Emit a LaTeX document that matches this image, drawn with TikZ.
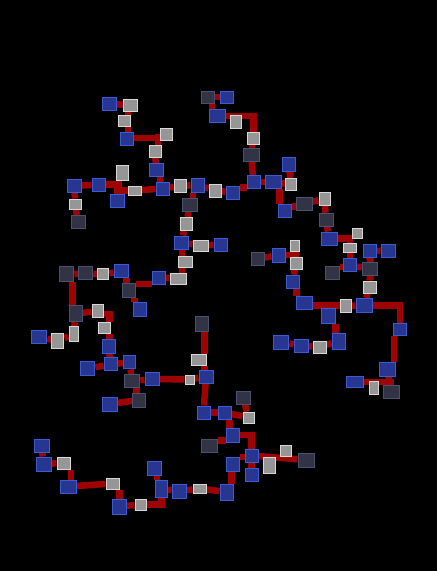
\documentclass[tikz,border=0pt]{standalone}
\usepackage{tikz}

\definecolor{blufill}{RGB}{38,54,145}
\definecolor{bluline}{RGB}{60,90,210}
\definecolor{whtfill}{RGB}{150,150,150}
\definecolor{whtline}{RGB}{215,215,215}
\definecolor{drkfill}{RGB}{50,52,70}
\definecolor{drkline}{RGB}{74,80,112}
\definecolor{wirered}{RGB}{158,4,4}

\pgfdeclarelayer{back}
\pgfdeclarelayer{wires}
\pgfsetlayers{back,wires,main}

\begin{document}
\begin{tikzpicture}[x=1pt, y=-1pt,
    box/.style={rectangle, inner sep=0pt, line width=1pt, minimum width=13pt, minimum height=13pt},
    blu/.style={box, draw=bluline, fill=blufill},
    drk/.style={box, draw=drkline, fill=drkfill},
    wht/.style={box, draw=whtline, fill=whtfill, minimum width=12pt, minimum height=12pt},
    sz/.style 2 args={minimum width=#1pt, minimum height=#2pt},
    wire/.style={draw=wirered, line width=6.5pt}]
    \useasboundingbox (0, 0) rectangle (437, 571);
    \begin{pgfonlayer}{back}
        \fill [black] (0, 0) rectangle (437, 571);
    \end{pgfonlayer}

    \node [blu, sz={14}{13}] (1) at (109.5, 104) {};
    \node [wht, sz={14}{12}] (2) at (130.5, 105) {};
    \node [wht, sz={12}{11}] (3) at (124, 121) {};
    \node [blu] (4) at (127, 139) {};
    \node [wht] (5) at (166, 134) {};
    \node [wht] (6) at (155, 151) {};
    \node [blu, sz={14}{13}] (7) at (156, 170) {};
    \node [blu] (8) at (162.5, 188.5) {};

    \node [blu, sz={14}{13}] (9) at (74.5, 186) {};
    \node [blu] (10) at (98.5, 184.5) {};
    \node [wht, sz={12}{15}] (11) at (122, 173) {};
    \node [wht, sz={13}{9}] (12) at (135, 190.5) {};
    \node [blu, sz={14}{13}] (13) at (117, 201) {};
    \node [wht, sz={12}{10}] (14) at (75, 204) {};
    \node [drk, sz={14}{13}] (15) at (78, 222) {};

    \node [drk, sz={13}{12}] (16) at (208, 97) {};
    \node [blu, sz={13}{12}] (17) at (226.5, 97) {};
    \node [blu, sz={16}{13}] (18) at (217, 116) {};
    \node [wht, sz={11}{13}] (19) at (236, 122) {};
    \node [wht] (20) at (253.5, 138) {};
    \node [drk, sz={16}{13}] (21) at (251, 155) {};
    \node [blu] (22) at (253.5, 182) {};
    \node [blu, sz={16}{13}] (23) at (273, 182) {};

    \node [wht, sz={12}{13}] (24) at (180, 186) {};
    \node [blu, sz={13}{14}] (25) at (197.5, 185) {};
    \node [wht, sz={12}{13}] (26) at (215, 190.5) {};
    \node [blu] (27) at (232.5, 192.5) {};
    \node [drk, sz={15}{13}] (28) at (190, 205) {};
    \node [wht, sz={12}{13}] (29) at (186, 224) {};

    \node [blu, sz={13}{14}] (30) at (288.5, 164) {};
    \node [wht, sz={11}{12}] (31) at (291, 184.5) {};
    \node [blu] (32) at (284.5, 211.3) {};
    \node [drk, sz={16}{13}] (33) at (304, 203.5) {};
    \node [wht, sz={11}{13}] (34) at (324.5, 199) {};
    \node [drk, sz={14}{13}] (35) at (326, 219.7) {};
    \node [blu, sz={16}{13}] (36) at (329, 238.5) {};
    \node [wht, sz={10}{10}] (37) at (357, 233) {};
    \node [wht, sz={13}{9}] (38) at (350, 248.3) {};
    \node [blu] (39) at (350, 265) {};
    \node [drk, sz={14}{13}] (40) at (332, 273) {};
    \node [blu] (41) at (369.5, 250.7) {};
    \node [blu, sz={14}{13}] (42) at (388, 251) {};
    \node [drk, sz={15}{13}] (43) at (370, 269) {};
    \node [wht, sz={13}{12}] (44) at (369.5, 287) {};
    \node [blu, sz={16}{14}] (45) at (364, 305.3) {};

    \node [wht, sz={9}{11}] (46) at (294.5, 245.5) {};
    \node [wht] (47) at (296, 263) {};
    \node [drk] (48) at (257.5, 259) {};
    \node [blu, sz={13}{14}] (49) at (278.5, 255) {};
    \node [blu] (50) at (292.5, 281.7) {};
    \node [blu, sz={16}{13}] (51) at (304, 302.5) {};
    \node [blu, sz={14}{15}] (52) at (328, 316) {};
    \node [wht, sz={11}{13}] (53) at (345.5, 306) {};
    \node [blu, sz={13}{16}] (54) at (338.5, 341) {};
    \node [blu, sz={13}{12}] (55) at (400, 329.5) {};
    \node [blu, sz={16}{14}] (56) at (387, 369) {};
    \node [blu, sz={17}{11}] (57) at (355, 382) {};
    \node [wht, sz={9}{13}] (58) at (373.5, 387.5) {};
    \node [drk, sz={16}{13}] (59) at (391, 391.5) {};
    \node [blu, sz={15}{14}] (60) at (281.3, 342) {};
    \node [blu, sz={14}{13}] (61) at (301, 345.7) {};
    \node [wht, sz={13}{12}] (62) at (319.5, 347) {};

    \node [drk, sz={14}{15}] (63) at (66.8, 274.3) {};
    \node [drk, sz={14}{13}] (64) at (85.8, 273.3) {};
    \node [wht, sz={11}{11}] (65) at (103.3, 274.3) {};
    \node [blu, sz={14}{13}] (66) at (121, 271.3) {};
    \node [drk, sz={13}{16}] (67) at (75.5, 313.8) {};
    \node [wht, sz={11}{13}] (68) at (97.5, 311) {};
    \node [wht, sz={12}{11}] (69) at (104.3, 328.3) {};
    \node [blu, sz={13}{14}] (70) at (108.5, 346) {};
    \node [blu] (71) at (110.5, 364.3) {};
    \node [blu, sz={12}{13}] (72) at (129.5, 362.3) {};
    \node [blu, sz={14}{14}] (73) at (87.8, 368.8) {};
    \node [drk, sz={15}{13}] (74) at (132.3, 381.2) {};
    \node [blu, sz={14}{13}] (75) at (152, 379) {};
    \node [drk, sz={13}{14}] (76) at (139.3, 400) {};
    \node [blu, sz={15}{14}] (77) at (109.5, 404) {};
    \node [drk, sz={13}{14}] (78) at (129.3, 290) {};
    \node [blu] (79) at (158.5, 277.5) {};
    \node [blu, sz={13}{14}] (80) at (139.5, 309) {};
    \node [blu, sz={15}{13}] (81) at (39.3, 337.3) {};
    \node [wht, sz={12}{15}] (82) at (57.8, 340.7) {};
    \node [wht, sz={9}{15}] (83) at (73.5, 334.3) {};

    \node [wht, sz={16}{11}] (84) at (178, 278.5) {};
    \node [wht, sz={14}{11}] (85) at (185, 262.3) {};
    \node [blu, sz={14}{13}] (86) at (181, 242.5) {};
    \node [wht, sz={15}{11}] (87) at (200.5, 245.5) {};
    \node [blu] (88) at (220.5, 244.5) {};

    \node [drk, sz={13}{15}] (89) at (201.5, 324.3) {};
    \node [wht, sz={15}{11}] (90) at (198.5, 359.5) {};
    \node [blu, sz={14}{13}] (91) at (206, 376.7) {};
    \node [wht, sz={9}{9}] (92) at (189.5, 379.5) {};
    \node [blu] (93) at (203.5, 412.5) {};
    \node [blu] (94) at (224.5, 412.5) {};
    \node [wht, sz={11}{11}] (95) at (248.5, 417.5) {};
    \node [drk, sz={14}{13}] (96) at (243, 397.5) {};
    \node [blu, sz={13}{14}] (97) at (232.5, 435) {};
    \node [drk, sz={16}{13}] (98) at (209, 445.5) {};
    \node [blu] (99) at (251.5, 455.5) {};
    \node [wht, sz={11}{11}] (100) at (285.5, 450.5) {};
    \node [drk, sz={16}{14}] (101) at (306, 460) {};
    \node [blu, sz={13}{14}] (102) at (232.5, 464) {};
    \node [blu] (103) at (251.5, 474.5) {};
    \node [wht, sz={12}{16}] (104) at (269, 465) {};
    \node [blu, sz={13}{16}] (105) at (226.5, 492) {};
    \node [wht, sz={13}{9}] (106) at (199.5, 488.5) {};
    \node [blu, sz={14}{14}] (107) at (179, 491) {};
    \node [blu, sz={12}{17}] (108) at (161.5, 489) {};
    \node [blu, sz={14}{14}] (109) at (154, 468) {};
    \node [wht, sz={11}{11}] (110) at (140.5, 504.5) {};
    \node [blu, sz={14}{15}] (111) at (119, 506.5) {};
    \node [wht, sz={13}{11}] (112) at (112.5, 483.5) {};
    \node [blu, sz={16}{13}] (113) at (68, 486.5) {};
    \node [wht, sz={13}{12}] (114) at (63.5, 463) {};
    \node [blu, sz={15}{14}] (115) at (43.5, 464) {};
    \node [blu, sz={15}{13}] (116) at (41.5, 445.5) {};

    \begin{pgfonlayer}{wires}
    \draw [wire] (1) to (2);
    \draw [wire] ([xshift=4pt]3.north) to ([xshift=4pt]3.north |- 2.south);
    \draw [wire] ([xshift=4pt]3.south) to ([xshift=4pt]3.south |- 4.north);
    \draw [wire] ([yshift=1pt]4.east) to ([yshift=1pt]4.east -| 5.west);
    \draw [wire] ([xshift=3pt]6.north) to ([xshift=3pt]6.north |- 5.west);
    \draw [wire] (6) to (7);
    \draw [wire] ([xshift=4pt]7.south) to ([xshift=4pt]7.south |- 8.north);

    \draw [wire] (9) to (10);
    \draw [wire] (10) -| (13);
    \draw [wire] ([xshift=-3pt]11.south) to ([xshift=-3pt]11.south |- 13.north);
    \draw [wire] (13) |- (12);
    \draw [wire] (12) to (8);
    \draw [wire] (9) to (14);
    \draw [wire] (14) to (15);

    \draw [wire] (16) to (17);
    \draw [wire] ([xshift=4pt]16.south) to ([xshift=4pt]16.south |- 18.north);
    \draw [wire] (18) -| (20);
    \draw [wire] (20) to (21);
    \draw [wire] (21) to (22);
    \draw [wire] (22) to (23);

    \draw [wire] (8) to (24);
    \draw [wire] (24) to (25);
    \draw [wire] (25) to (26);
    \draw [wire] (26) to (27);
    \draw [wire] ([yshift=5pt]27.east) to ([yshift=5pt]27.east -| 22.west);
    \draw [wire] ([xshift=3pt]28.north) to ([xshift=3pt]28.north |- 25.south);
    \draw [wire] (28) to (29);
    \draw [wire] (29) to (86);

    \draw [wire] (23) to (31);
    \draw [wire] (30) to (31);
    \draw [wire] ([xshift=-5pt]32.north) to ([xshift=-5pt]32.north |- 23.south);
    \draw [wire] ([yshift=5pt]32.east) to ([yshift=5pt]32.east -| 33.west);
    \draw [wire] (33) to (34);
    \draw [wire] (34) to (35);
    \draw [wire] (35) to (36);
    \draw [wire] (36) -| (38);
    \draw [wire] (38) to (39);
    \draw [wire] ([yshift=-2pt]39.west) to ([yshift=-2pt]39.west -| 40.east);
    \draw [wire] (39) to (43);
    \draw [wire] (41) to (42);
    \draw [wire] (41) to (43);
    \draw [wire] (43) to (44);
    \draw [wire] (44) to (45);

    \draw [wire] (48) to (49);
    \draw [wire] (49) -| (47);
    \draw [wire] (46) to (47);
    \draw [wire] (47) to (50);
    \draw [wire] ([xshift=4pt]50.south) to ([xshift=4pt]50.south |- 51.north);
    \draw [wire] ([yshift=-3pt]51.east) to ([yshift=-3pt]51.east -| 53.west);
    \draw [wire] (53) to (45);
    \draw [wire] ([xshift=-3pt]54.north) to ([xshift=-3pt]54.north |- 52.south);
    \draw [wire] (45) -| (55);
    \draw [wire] ([xshift=1pt]55.south west) to ([xshift=1pt]55.south west |- 56.north);
    \draw [wire] (56) to (59);
    \draw [wire] (57) -| (59);
    \draw [wire] (60) to (61);
    \draw [wire] (61) to (62);
    \draw [wire] (62) to (54);

    \draw [wire] (63) to (64);
    \draw [wire] (64) to (65);
    \draw [wire] (65) to (66);
    \draw [wire] ([xshift=-3pt]67.north) to ([xshift=-3pt]67.north |- 63.south);
    \draw [wire] (67) to (68);
    \draw [wire] ([yshift=-3pt]68.east) -| ([xshift=5pt]69.north);
    \draw [wire] ([xshift=5pt]69.south) to ([xshift=5pt]69.south |- 70.north);
    \draw [wire] (70) to (71);
    \draw [wire] (71) to (72);
    \draw [wire] (73) to (71);
    \draw [wire] (72) to (74);
    \draw [wire] (74) to (75);
    \draw [wire] ([xshift=-3pt]76.north) to ([xshift=-3pt]76.north |- 74.south);
    \draw [wire] (76) to (77);
    \draw [wire] (67) to (83);
    \draw [wire] (81) to (82);
    \draw [wire] (82) to (83);
    \draw [wire] ([xshift=-3pt]78.north) to ([xshift=-3pt]78.north |- 66.south);
    \draw [wire] ([yshift=6pt]78.east) to ([yshift=6pt]78.east -| 79.west);
    \draw [wire] ([xshift=5pt]78.south) to ([xshift=5pt]78.south |- 80.north);

    \draw [wire] (79) to (84);
    \draw [wire] ([xshift=-3pt]85.south) to ([xshift=-3pt]85.south |- 84.north);
    \draw [wire] ([xshift=-3pt]85.north) to ([xshift=-3pt]85.north |- 86.south);
    \draw [wire] (86) to (87);
    \draw [wire] (87) to (88);

    \draw [wire] ([xshift=3pt]89.south) to ([xshift=3pt]89.south |- 90.north);
    \draw [wire] ([xshift=6pt]90.south) to ([xshift=6pt]90.south |- 91.north);
    \draw [wire] (91) to (92);
    \draw [wire] (92) to (75);
    \draw [wire] (91) to (93);
    \draw [wire] (93) to (94);
    \draw [wire] (94) to (95);
    \draw [wire] (96) to (95);
    \draw [wire] ([xshift=-3pt]97.north) to ([xshift=-3pt]97.north |- 94.south);
    \draw [wire] ([yshift=5pt]98.east) to ([yshift=5pt]98.east -| 97.west);
    \draw [wire] (97) -| (99);
    \draw [wire] (99) to (101);
    \draw [wire] ([yshift=7pt]102.east) to ([yshift=7pt]102.east -| 99.west);
    \draw [wire] (99) to (103);
    \draw [wire] ([xshift=5pt]105.north) to ([xshift=5pt]105.north |- 102.south);
    \draw [wire] (105) to (106);
    \draw [wire] (106) to (107);
    \draw [wire] (107) to (108);
    \draw [wire] ([xshift=3pt]109.south) to ([xshift=3pt]109.south |- 108.north);
    \draw [wire] (108) |- (110);
    \draw [wire] (110) to (111);
    \draw [wire] ([xshift=7pt]112.south) to ([xshift=7pt]112.south |- 111.north);
    \draw [wire] (112) to (113);
    \draw [wire] ([xshift=3pt]113.north) to ([xshift=3pt]113.north |- 114.south);
    \draw [wire] (114) to (115);
    \draw [wire] (115) to (116);
    \end{pgfonlayer}
\end{tikzpicture}
\end{document}
